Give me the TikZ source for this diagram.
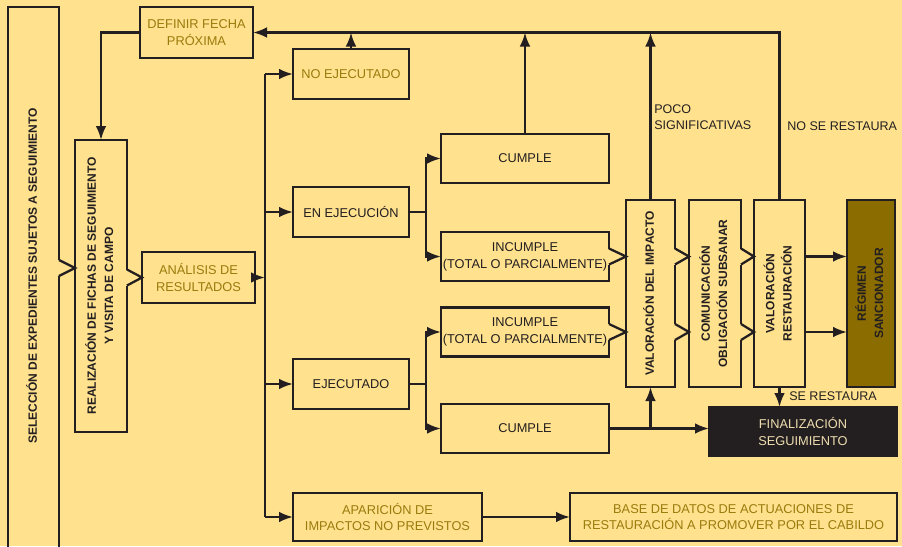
\documentclass[tikz,border=0pt]{standalone}
\usepackage{fontspec}
\setmainfont{Liberation Sans}
\usepackage{graphicx}
\usetikzlibrary{arrows.meta,calc}
\definecolor{fondo}{HTML}{FFE18E}
\definecolor{oliva}{HTML}{9A7B0C}
\definecolor{tinta}{HTML}{231F20}
\definecolor{sancion}{HTML}{8A6C00}
\definecolor{crema}{HTML}{EFDDB0}
\newcommand{\vfont}{\fontsize{9}{13}\selectfont\bfseries}
\newcommand{\vtext}[1]{\rotatebox{90}{\begin{tabular}{@{}c@{}}#1\end{tabular}}}
\tikzset{
  >={Latex[length=10.5pt,width=8pt]},
  % cajas
  caja/.style={draw=tinta,line width=1.7pt,inner sep=1pt,outer sep=0pt,align=center,
               font=\fontsize{9.6}{12.6}\selectfont,text=tinta},
  media/.style={caja,minimum width=87pt,minimum height=37.5pt},
  ancha/.style={caja,minimum width=126pt,minimum height=36.75pt},
  alta/.style={caja,minimum width=38.25pt,minimum height=140.25pt,font=\vfont},
  ocre/.style={text=oliva},
  % conectores
  flujo/.style={->,draw=tinta,line width=1.7pt},
  linea/.style={draw=tinta,line width=1.7pt},
  etiq/.style={font=\fontsize{9.4}{12}\selectfont,text=tinta,align=left,inner sep=0pt},
}
% muesca en el borde derecho de una caja
\newcommand{\muesca}[2]{%
  \fill[fondo] ([shift={(-1.8,-8)}]#1) rectangle ([shift={(1.8,8)}]#1);
  \draw[linea] ([shift={(0,-8)}]#1) -- (#2.west |- #1) -- ([shift={(0,8)}]#1);}

\begin{document}
\begin{tikzpicture}[x=0.75pt,y=-0.75pt]
  \useasboundingbox (0,0) rectangle (902,546);
  \fill[fondo] (0,0) rectangle (902,546);
  \clip (0,0) rectangle (902,546);
  % columna izquierda
  \node[caja,font=\vfont,minimum width=38.25pt,minimum height=414.75pt,text depth=11pt] (sel) at (33.5,283.5)
    {\vtext{SELECCIÓN DE EXPEDIENTES SUJETOS A SEGUIMIENTO}};
  \node[caja,font=\vfont,minimum width=39pt,minimum height=219pt] (realiz) at (101,286)
    {\vtext{REALIZACIÓN DE FICHAS DE SEGUIMIENTO\\Y VISITA DE CAMPO}};
  \node[media,ocre,minimum width=84.75pt,minimum height=38.25pt] (defin) at (196.5,32.5) {DEFINIR FECHA\\PRÓXIMA};
  \node[media,ocre,minimum width=84.75pt,minimum height=38.25pt] (analisis) at (198.5,277.5) {ANÁLISIS DE\\RESULTADOS};
  % estados
  \node[media,ocre] (noej) at (351,74) {NO EJECUTADO};
  \node[media] (enej) at (351,212) {EN EJECUCIÓN};
  \node[media] (ejec) at (351,384) {EJECUTADO};
  \node[caja,ocre,minimum width=141.75pt,minimum height=36pt] (apar) at (387.5,517) {APARICIÓN DE\\IMPACTOS NO PREVISTOS};
  \node[caja,ocre,minimum width=245.25pt,minimum height=36pt] (base) at (733.5,517)
    {BASE DE DATOS DE ACTUACIONES DE\\RESTAURACIÓN A PROMOVER POR EL CABILDO};
  \node[ancha] (cump1) at (525,158.5) {CUMPLE};
  \node[ancha] (inc1) at (525,256.5) {INCUMPLE\\(TOTAL O PARCIALMENTE)};
  \node[ancha] (inc2) at (525,332) {INCUMPLE\\(TOTAL O PARCIALMENTE)};
  \node[ancha] (cump2) at (525,428.5) {CUMPLE};
  % valoracion
  \node[alta,minimum width=36.75pt] (valimp) at (650.5,293.5) {\vtext{VALORACIÓN DEL IMPACTO}};
  \node[alta,minimum width=39pt] (comun) at (715,293.5) {\vtext{COMUNICACIÓN\\OBLIGACIÓN SUBSANAR}};
  \node[alta] (valres) at (779.5,293.5) {\vtext{VALORACIÓN\\RESTAURACIÓN}};
  \node[alta,fill=sancion,minimum width=36pt] (regimen) at (871,293.5) {\vtext{RÉGIMEN\\SANCIONADOR}};
  \node[caja,fill=tinta,text=crema,minimum width=141pt,minimum height=36.75pt] (final) at (803,431.5)
    {FINALIZACIÓN\\SEGUIMIENTO};
  \node[etiq,anchor=west] (poco) at (654,117) {POCO\\SIGNIFICATIVAS};
  \node[etiq,anchor=west] (nores) at (787,126) {NO SE RESTAURA};
  \node[etiq,anchor=west] (sires) at (789,396) {SE RESTAURA};

  % muescas
  \coordinate (m1) at (sel.east |- 0,268);
  \coordinate (m2) at (realiz.east |- analisis.west);
  \coordinate (m5) at (valimp.east |- inc1.east);
  \coordinate (m6) at (valimp.east |- inc2.east);
  \coordinate (m7) at (comun.east |- inc1.east);
  \coordinate (m8) at (comun.east |- inc2.east);
  \muesca{m1}{realiz}
  \muesca{m2}{analisis}
  \muesca{inc1.east}{valimp}
  \muesca{inc2.east}{valimp}
  \muesca{m5}{comun}
  \muesca{m6}{comun}
  \muesca{m7}{valres}
  \muesca{m8}{valres}

  % conectores
  \coordinate (bus) at (265,0);
  \draw[flujo] (analisis) -- (analisis -| bus);
  \draw[linea] (bus |- noej) -- (bus |- apar);
  \foreach \n in {noej,enej,ejec,apar}
    \draw[flujo] (bus |- \n) -- (\n);
  \draw[flujo] (enej.east) -- ++(17,0) |- (cump1.west);
  \draw[flujo] (enej.east) -- ++(17,0) |- (inc1.west);
  \draw[flujo] (ejec.east) -- ++(17,0) |- (inc2.west);
  \draw[flujo] (ejec.east) -- ++(17,0) |- (cump2.west);
  \draw[flujo] (valres.north) |- (defin.east);
  \foreach \n in {noej,cump1,valimp}
    \draw[flujo] (\n.north) -- (\n.north |- defin.east);
  \draw[flujo] (defin.west) -| (realiz.north);
  \draw[flujo] (cump2.east) -- (cump2.east -| final.west);
  \draw[flujo] (cump2.east -| valimp.south) -- (valimp.south);
  \draw[flujo] (valres.south) -- (valres.south |- final.north);
  \draw[flujo] (valres.east |- inc1.east) -- (regimen.west |- inc1.east);
  \draw[flujo] (valres.east |- inc2.east) -- (regimen.west |- inc2.east);
  \draw[flujo] (apar) -- (base);
\end{tikzpicture}
\end{document}
